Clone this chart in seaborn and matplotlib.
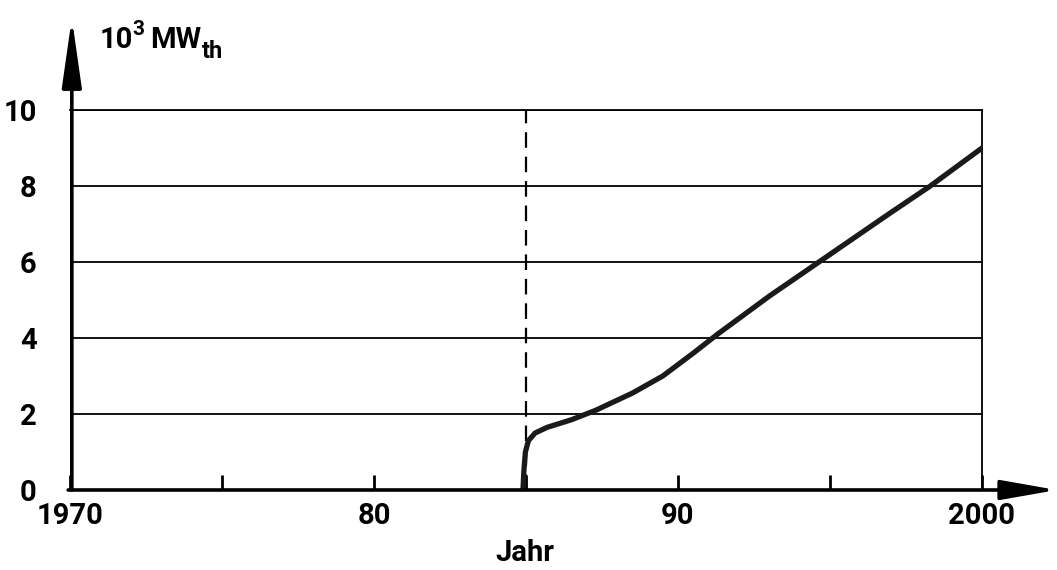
import numpy as np
import pandas as pd
import matplotlib
matplotlib.use("Agg")
import matplotlib.pyplot as plt
import seaborn as sns

# Data
years = [1984.9, 1984.93, 1984.98, 1985.08, 1985.3, 1985.7, 1986.5, 1987.3,
         1988.5, 1989.5, 1990.5, 1991.3, 1993.0, 1995.0, 1997.0, 1998.3, 2000.0]
power = [0.0, 0.5, 1.0, 1.3, 1.5, 1.65, 1.85, 2.1,
         2.55, 3.0, 3.6, 4.1, 5.1, 6.2, 7.3, 8.0, 9.0]
xtick_pos = [1970, 1975, 1980, 1985, 1990, 1995, 2000]
xtick_labels = ["1970", "", "80", "", "90", "", "2000"]
ytick_pos = [0, 2, 4, 6, 8, 10]
ytick_labels = ["0", "2", "4", "6", "8", "10"]
marker_year = 1985

sns.set_style("white")
plt.rcParams['font.family'] = ['Roboto', 'DejaVu Sans']
plt.rcParams['font.weight'] = 'bold'
plt.rcParams['text.color'] = 'black'
plt.rcParams['xtick.color'] = 'black'
plt.rcParams['ytick.color'] = 'black'
plt.rcParams['xtick.labelcolor'] = 'black'
plt.rcParams['ytick.labelcolor'] = 'black'

fig = plt.figure(figsize=(10.57, 5.70), dpi=100)
ax = fig.add_axes([70 / 1057, 80 / 570, 912 / 1057, 380 / 570])

df = pd.DataFrame({"Jahr": years, "P": power})

# grid lines
for y in ytick_pos[1:]:
    ax.axhline(y, color="black", lw=1.3, zorder=1)
ax.axvline(marker_year, color="black", lw=1.6, ls=(0, (7, 4)), zorder=1)

sns.lineplot(data=df, x="Jahr", y="P", ax=ax, color="#1a1a1a", lw=3.8,
             solid_capstyle="round", zorder=3)

ax.set_xlim(1970, 2000)
ax.set_ylim(0, 10)
ax.set_xticks(xtick_pos)
ax.set_xticklabels(xtick_labels)
ax.set_yticks(ytick_pos)
ax.set_yticklabels(ytick_labels)
ax.tick_params(axis="x", bottom=True, direction="in", length=11, width=2, pad=9,
               labelsize=21, color="black")
ax.tick_params(axis="y", left=True, length=0, pad=24, labelsize=21)
ax.set_xlabel("")
ax.set_ylabel("")

for s in ["top", "right"]:
    ax.spines[s].set_linewidth(1.3)
    ax.spines[s].set_color("black")
for s in ["left", "bottom"]:
    ax.spines[s].set_visible(False)

# axis arrows
ax.annotate("", xy=(0.002, 1.242), xytext=(0.002, 0.0), xycoords="axes fraction",
            arrowprops=dict(arrowstyle="-|>,head_length=42,head_width=6",
                            mutation_scale=1, lw=2.6, color="black",
                            shrinkA=0, shrinkB=0), annotation_clip=False)
ax.annotate("", xy=(1.082, 0.0), xytext=(-0.002, 0.0), xycoords="axes fraction",
            arrowprops=dict(arrowstyle="-|>,head_length=34,head_width=6",
                            mutation_scale=1, lw=2.6, color="black",
                            shrinkA=0, shrinkB=0), annotation_clip=False)

# unit label: 10^3 MW_th built from pieces
ax.text(0.0329, 1.163, "10", transform=ax.transAxes, fontsize=21,
        ha="left", va="baseline")
ax.text(0.0685, 1.197, "3", transform=ax.transAxes, fontsize=15,
        ha="left", va="baseline")
ax.text(0.0875, 1.163, "MW", transform=ax.transAxes, fontsize=21,
        ha="left", va="baseline")
ax.text(0.1445, 1.137, "th", transform=ax.transAxes, fontsize=17,
        ha="left", va="baseline")

ax.text(0.499, -0.166, "Jahr", transform=ax.transAxes, fontsize=21,
        ha="center", va="center")

fig.savefig("out.png", dpi=100)
